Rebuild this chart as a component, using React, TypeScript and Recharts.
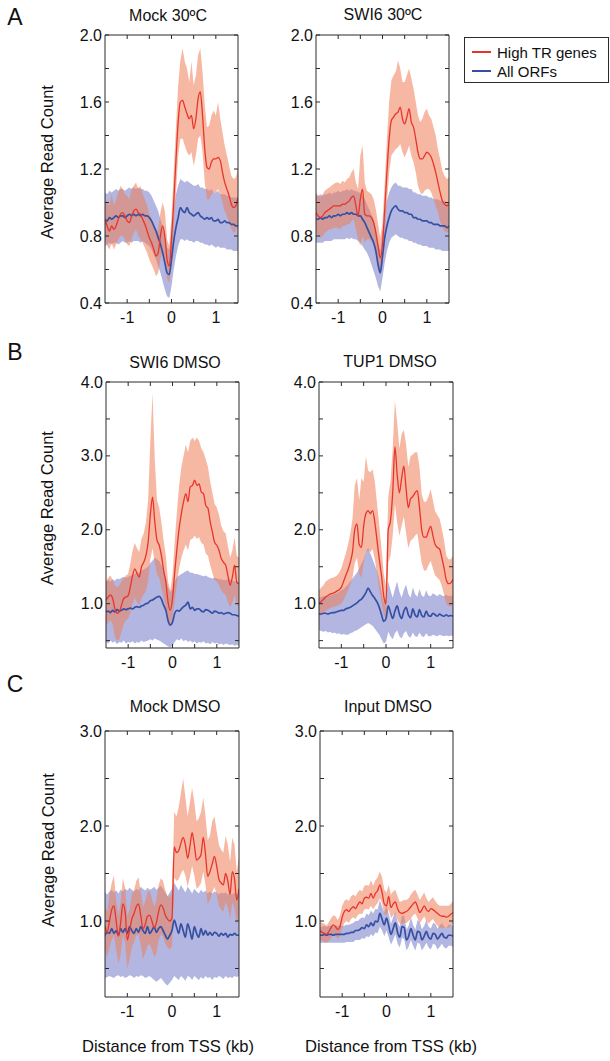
import React from 'react';
import { ComposedChart, Area, Line, XAxis, YAxis } from 'recharts';

const FONT = '"Liberation Sans", Arial, Helvetica, sans-serif';
const AX = '#2a2a2a';

// distance from TSS (kb)
const X = [-1.5,-1.45,-1.4,-1.35,-1.3,-1.25,-1.2,-1.15,-1.1,-1.05,
  -1,-0.95,-0.9,-0.85,-0.8,-0.75,-0.7,-0.65,-0.6,-0.55,
  -0.5,-0.45,-0.4,-0.35,-0.3,-0.25,-0.2,-0.15,-0.1,-0.05,
  0,0.05,0.1,0.15,0.2,0.25,0.3,0.35,0.4,0.45,
  0.5,0.55,0.6,0.65,0.7,0.75,0.8,0.85,0.9,0.95,
  1,1.05,1.1,1.15,1.2,1.25,1.3,1.35,1.4,1.45,
  1.5];

const X_TICKS = [-1, -0.5, 0, 0.5, 1];
const X_LABELS = [-1, 0, 1];

// ---------- A: Mock 30ºC ----------
const A1_RED = [0.90,0.86,0.83,0.86,0.84,0.86,0.90,0.93,0.94,0.92,
  0.89,0.88,0.92,0.95,0.96,0.94,0.93,0.90,0.87,0.83,
  0.79,0.76,0.72,0.68,0.70,0.80,0.86,0.80,0.66,0.62,
  0.78,1.00,1.25,1.48,1.60,1.61,1.57,1.53,1.50,1.52,
  1.44,1.50,1.62,1.66,1.52,1.32,1.21,1.20,1.24,1.26,
  1.26,1.27,1.25,1.18,1.12,1.08,1.04,0.99,0.97,0.98,
  1.03];
const A1_RED_LO = [0.78,0.74,0.72,0.76,0.72,0.75,0.78,0.80,0.80,0.78,
  0.75,0.74,0.78,0.82,0.84,0.80,0.78,0.76,0.73,0.70,
  0.66,0.63,0.60,0.56,0.58,0.66,0.72,0.66,0.55,0.52,
  0.64,0.85,1.05,1.28,1.38,1.38,1.34,1.30,1.28,1.30,
  1.22,1.28,1.38,1.40,1.30,1.12,1.02,1.02,1.05,1.06,
  1.06,1.08,1.05,1.00,0.95,0.92,0.88,0.84,0.82,0.83,
  0.88];
const A1_RED_HI = [1.02,1.00,0.98,1.05,0.98,1.02,1.06,1.10,1.08,1.05,
  1.04,1.02,1.08,1.10,1.12,1.08,1.10,1.05,1.02,0.98,
  0.93,0.90,0.86,0.82,0.84,0.94,1.00,0.95,0.78,0.74,
  0.92,1.18,1.45,1.70,1.85,1.92,1.84,1.80,1.72,1.84,
  1.70,1.76,1.88,1.92,1.78,1.58,1.45,1.46,1.52,1.55,
  1.52,1.60,1.50,1.42,1.34,1.28,1.22,1.16,1.14,1.15,
  1.20];
const A1_BLUE = [0.90,0.89,0.91,0.90,0.91,0.92,0.91,0.92,0.92,0.91,
  0.92,0.93,0.92,0.93,0.92,0.93,0.92,0.93,0.92,0.92,
  0.91,0.89,0.86,0.83,0.79,0.75,0.70,0.64,0.58,0.57,
  0.66,0.77,0.85,0.91,0.97,0.95,0.94,0.97,0.94,0.93,
  0.92,0.93,0.94,0.92,0.91,0.90,0.91,0.90,0.91,0.89,
  0.89,0.90,0.88,0.88,0.89,0.88,0.88,0.87,0.87,0.86,
  0.86];
const A1_BLUE_LO = [0.74,0.75,0.76,0.75,0.76,0.76,0.75,0.76,0.77,0.76,
  0.76,0.77,0.76,0.77,0.77,0.77,0.76,0.77,0.76,0.75,
  0.74,0.72,0.69,0.66,0.62,0.58,0.53,0.48,0.44,0.43,
  0.50,0.60,0.68,0.74,0.78,0.78,0.77,0.78,0.77,0.77,
  0.76,0.77,0.77,0.76,0.76,0.75,0.75,0.74,0.75,0.74,
  0.73,0.74,0.73,0.73,0.73,0.72,0.72,0.72,0.71,0.71,
  0.71];
const A1_BLUE_HI = [1.06,1.05,1.07,1.06,1.07,1.08,1.07,1.08,1.08,1.07,
  1.08,1.09,1.08,1.09,1.08,1.09,1.08,1.08,1.07,1.07,
  1.06,1.04,1.01,0.98,0.95,0.90,0.86,0.80,0.73,0.72,
  0.83,0.95,1.05,1.10,1.14,1.13,1.12,1.13,1.12,1.11,
  1.10,1.10,1.11,1.09,1.09,1.08,1.08,1.07,1.08,1.06,
  1.06,1.07,1.05,1.05,1.05,1.04,1.04,1.03,1.03,1.03,
  1.03];

// ---------- A: SWI6 30ºC ----------
const A2_RED = [0.94,0.92,0.91,0.92,0.94,0.95,0.96,0.97,0.98,0.98,
  0.98,0.98,0.99,0.99,1.00,1.01,1.03,1.04,0.98,0.92,
  1.02,1.08,0.93,0.92,0.92,0.91,0.88,0.82,0.74,0.67,
  0.75,0.96,1.18,1.38,1.49,1.51,1.53,1.54,1.57,1.50,
  1.47,1.51,1.56,1.48,1.45,1.38,1.30,1.26,1.26,1.28,
  1.30,1.29,1.27,1.23,1.18,1.12,1.06,1.01,0.99,0.98,
  0.99];
const A2_RED_LO = [0.82,0.80,0.79,0.80,0.82,0.83,0.84,0.84,0.85,0.85,
  0.85,0.84,0.86,0.86,0.87,0.87,0.89,0.90,0.84,0.78,
  0.74,0.80,0.76,0.78,0.78,0.77,0.75,0.70,0.63,0.57,
  0.64,0.82,1.00,1.18,1.28,1.30,1.32,1.33,1.35,1.30,
  1.27,1.30,1.34,1.28,1.24,1.18,1.10,1.06,1.05,1.07,
  1.08,1.08,1.06,1.02,0.98,0.94,0.89,0.85,0.83,0.82,
  0.83];
const A2_RED_HI = [1.06,1.04,1.03,1.05,1.07,1.08,1.09,1.10,1.11,1.12,
  1.12,1.11,1.13,1.12,1.14,1.15,1.18,1.20,1.12,1.08,
  1.28,1.34,1.12,1.07,1.06,1.05,1.02,0.96,0.87,0.79,
  0.88,1.12,1.38,1.60,1.73,1.76,1.78,1.85,1.80,1.72,
  1.72,1.76,1.80,1.74,1.68,1.60,1.52,1.48,1.50,1.54,
  1.56,1.52,1.50,1.45,1.40,1.32,1.26,1.19,1.16,1.14,
  1.15];
const A2_BLUE = [0.90,0.90,0.91,0.90,0.91,0.91,0.92,0.91,0.92,0.92,
  0.93,0.92,0.93,0.93,0.94,0.93,0.94,0.93,0.93,0.92,
  0.92,0.90,0.88,0.85,0.82,0.79,0.76,0.71,0.63,0.58,
  0.68,0.79,0.86,0.91,0.95,0.97,0.98,0.96,0.95,0.95,
  0.94,0.94,0.93,0.93,0.91,0.91,0.90,0.90,0.89,0.89,
  0.89,0.88,0.88,0.87,0.87,0.87,0.86,0.86,0.86,0.85,
  0.86];
const A2_BLUE_LO = [0.76,0.76,0.76,0.76,0.77,0.77,0.77,0.77,0.78,0.78,
  0.78,0.78,0.78,0.78,0.79,0.78,0.79,0.78,0.78,0.77,
  0.76,0.74,0.72,0.70,0.67,0.63,0.59,0.55,0.50,0.47,
  0.55,0.64,0.71,0.76,0.79,0.80,0.81,0.80,0.79,0.79,
  0.78,0.78,0.77,0.77,0.76,0.76,0.75,0.75,0.74,0.74,
  0.74,0.73,0.73,0.73,0.72,0.72,0.72,0.71,0.71,0.71,
  0.71];
const A2_BLUE_HI = [1.04,1.04,1.05,1.04,1.05,1.05,1.06,1.05,1.06,1.06,
  1.07,1.06,1.07,1.07,1.08,1.07,1.08,1.07,1.07,1.06,
  1.06,1.04,1.02,0.99,0.96,0.93,0.90,0.85,0.76,0.71,
  0.82,0.94,1.01,1.06,1.09,1.11,1.12,1.10,1.10,1.09,
  1.09,1.09,1.08,1.08,1.06,1.06,1.05,1.05,1.04,1.04,
  1.04,1.03,1.03,1.02,1.02,1.02,1.01,1.01,1.01,1.00,
  1.01];

// ---------- B: SWI6 DMSO ----------
const B1_RED = [1.05,1.09,1.12,1.07,0.93,0.87,0.89,0.98,1.07,1.09,
  1.11,1.23,1.38,1.47,1.41,1.36,1.50,1.56,1.65,1.83,
  2.20,2.44,2.11,1.86,1.79,1.65,1.45,1.29,1.02,0.91,
  1.07,1.43,1.74,2.02,2.22,2.38,2.49,2.38,2.58,2.60,
  2.67,2.60,2.62,2.51,2.49,2.33,2.29,2.11,1.97,1.83,
  1.79,1.72,1.61,1.56,1.52,1.38,1.25,1.36,1.52,1.29,
  1.27];
const B1_RED_LO = [0.70,0.75,0.78,0.72,0.55,0.50,0.52,0.62,0.72,0.78,
  0.80,0.88,1.00,1.08,1.02,0.98,1.08,1.12,1.18,1.30,
  1.60,1.75,1.55,1.40,1.35,1.22,1.08,0.95,0.78,0.72,
  0.82,1.05,1.28,1.48,1.62,1.72,1.80,1.72,1.86,1.88,
  1.92,1.88,1.90,1.82,1.80,1.68,1.65,1.52,1.42,1.32,
  1.30,1.25,1.18,1.14,1.12,1.02,0.95,1.02,1.12,0.98,
  0.96];
const B1_RED_HI = [1.30,1.35,1.38,1.32,1.25,1.22,1.25,1.30,1.35,1.38,
  1.40,1.55,1.72,1.82,1.75,1.70,1.88,1.95,2.10,2.40,
  3.20,3.85,2.95,2.40,2.30,2.10,1.85,1.65,1.30,1.18,
  1.38,1.85,2.25,2.60,2.85,3.00,3.15,3.05,3.20,3.25,
  3.20,3.25,3.20,3.10,3.05,2.95,2.85,2.65,2.50,2.35,
  2.30,2.20,2.05,1.98,1.95,1.78,1.62,1.72,1.90,1.65,
  1.62];
const B1_BLUE = [0.89,0.90,0.88,0.91,0.89,0.92,0.90,0.91,0.93,0.92,
  0.93,0.94,0.93,0.95,0.96,0.95,0.97,0.98,1.00,1.01,
  1.04,1.05,1.07,1.09,1.10,1.06,0.98,0.91,0.77,0.71,
  0.75,0.87,0.91,0.90,0.93,0.96,0.98,1.02,0.93,0.95,
  0.91,0.93,0.93,0.90,0.89,0.92,0.91,0.89,0.87,0.90,
  0.89,0.87,0.88,0.86,0.87,0.88,0.87,0.85,0.85,0.84,
  0.83];
const B1_BLUE_LO = [0.48,0.46,0.50,0.47,0.49,0.45,0.48,0.47,0.50,0.46,
  0.48,0.47,0.49,0.46,0.48,0.47,0.50,0.48,0.49,0.50,
  0.52,0.50,0.53,0.51,0.50,0.48,0.46,0.44,0.42,0.41,
  0.43,0.48,0.52,0.50,0.53,0.49,0.51,0.48,0.50,0.47,
  0.49,0.46,0.48,0.47,0.49,0.46,0.47,0.45,0.48,0.46,
  0.47,0.45,0.46,0.44,0.46,0.45,0.44,0.45,0.43,0.44,
  0.43];
const B1_BLUE_HI = [1.30,1.32,1.30,1.33,1.31,1.34,1.33,1.35,1.36,1.35,
  1.36,1.38,1.38,1.40,1.42,1.42,1.45,1.46,1.48,1.50,
  1.55,1.58,1.62,1.60,1.58,1.52,1.45,1.36,1.22,1.15,
  1.20,1.30,1.36,1.38,1.40,1.42,1.44,1.45,1.42,1.42,
  1.40,1.40,1.39,1.38,1.37,1.38,1.36,1.35,1.34,1.35,
  1.34,1.33,1.33,1.32,1.32,1.33,1.32,1.31,1.30,1.30,
  1.29];

// ---------- B: TUP1 DMSO ----------
const B2_RED = [1.00,1.03,1.06,1.09,1.11,1.13,1.14,1.15,1.17,1.19,
  1.22,1.30,1.38,1.46,1.56,1.70,2.00,2.08,1.80,1.76,
  2.05,2.22,2.26,2.22,2.26,2.10,1.85,1.60,1.38,1.10,
  1.00,2.00,2.12,2.50,3.12,2.75,2.50,2.70,2.86,2.55,
  2.30,2.42,2.45,2.50,2.53,2.30,2.00,1.90,1.90,1.98,
  2.05,1.92,1.80,1.76,1.74,1.62,1.48,1.32,1.27,1.28,
  1.33];
const B2_RED_LO = [0.82,0.85,0.88,0.90,0.92,0.94,0.95,0.96,0.97,0.99,
  1.00,1.05,1.12,1.18,1.25,1.35,1.55,1.62,1.40,1.35,
  1.55,1.70,1.72,1.70,1.74,1.60,1.40,1.20,1.02,0.85,
  0.80,1.55,1.65,1.92,2.35,2.10,1.92,2.05,2.18,1.95,
  1.75,1.85,1.88,1.92,1.95,1.75,1.55,1.45,1.45,1.52,
  1.58,1.48,1.38,1.35,1.32,1.24,1.12,1.00,0.96,0.97,
  1.00];
const B2_RED_HI = [1.18,1.22,1.25,1.30,1.32,1.34,1.35,1.36,1.38,1.42,
  1.48,1.58,1.68,1.80,1.95,2.15,2.60,2.70,2.40,2.70,
  2.65,3.00,2.80,2.78,2.82,2.65,2.35,2.05,1.75,1.40,
  1.25,2.45,2.65,3.10,3.75,3.45,3.10,3.30,3.35,3.15,
  2.85,3.00,3.02,3.05,3.05,2.85,2.48,2.38,2.38,2.45,
  2.55,2.40,2.25,2.20,2.15,2.02,1.85,1.65,1.60,1.60,
  1.65];
const B2_BLUE = [0.86,0.86,0.87,0.87,0.86,0.87,0.88,0.88,0.89,0.90,
  0.91,0.91,0.93,0.94,0.95,0.97,0.99,1.01,1.04,1.06,
  1.10,1.15,1.21,1.16,1.11,1.07,1.02,0.95,0.85,0.76,
  0.80,0.97,0.88,0.80,0.90,0.97,0.86,0.80,0.90,0.95,
  0.85,0.81,0.93,0.85,0.82,0.92,0.84,0.82,0.90,0.84,
  0.83,0.87,0.85,0.83,0.86,0.84,0.83,0.85,0.83,0.84,
  0.83];
const B2_BLUE_LO = [0.64,0.63,0.62,0.63,0.61,0.62,0.60,0.61,0.59,0.60,
  0.58,0.59,0.58,0.58,0.60,0.61,0.63,0.64,0.66,0.68,
  0.70,0.72,0.74,0.72,0.70,0.66,0.62,0.58,0.52,0.46,
  0.48,0.62,0.56,0.52,0.60,0.64,0.56,0.53,0.60,0.63,
  0.56,0.54,0.61,0.56,0.55,0.61,0.56,0.55,0.60,0.56,
  0.56,0.58,0.57,0.56,0.58,0.57,0.56,0.57,0.56,0.57,
  0.56];
const B2_BLUE_HI = [1.08,1.09,1.10,1.10,1.10,1.11,1.12,1.13,1.14,1.16,
  1.18,1.20,1.23,1.26,1.30,1.34,1.38,1.42,1.48,1.54,
  1.60,1.70,1.76,1.68,1.60,1.52,1.44,1.32,1.16,1.02,
  1.10,1.30,1.18,1.08,1.20,1.30,1.16,1.08,1.19,1.26,
  1.13,1.08,1.22,1.13,1.09,1.20,1.11,1.09,1.18,1.11,
  1.10,1.14,1.12,1.10,1.13,1.11,1.10,1.12,1.10,1.11,
  1.10];

// ---------- C: Mock DMSO ----------
const C1_RED = [0.95,0.88,1.00,1.12,1.16,1.00,0.84,0.98,1.18,1.10,
  0.80,0.90,1.02,1.08,1.15,1.18,1.06,0.92,0.96,1.05,
  1.06,1.00,0.93,0.98,1.10,1.17,1.14,1.06,1.02,1.00,
  1.03,1.78,1.72,1.74,1.82,1.88,1.80,1.66,1.78,1.93,
  1.80,1.64,1.66,1.70,1.88,1.70,1.47,1.52,1.60,1.68,
  1.58,1.44,1.40,1.38,1.50,1.42,1.28,1.52,1.44,1.22,
  1.34];
const C1_RED_LO = [0.70,0.62,0.72,0.80,0.85,0.70,0.55,0.65,0.85,0.78,
  0.50,0.60,0.72,0.78,0.85,0.86,0.75,0.60,0.66,0.74,
  0.76,0.70,0.62,0.66,0.80,0.86,0.84,0.76,0.72,0.70,
  0.74,1.46,1.42,1.44,1.50,1.54,1.48,1.36,1.46,1.58,
  1.48,1.34,1.36,1.40,1.52,1.38,1.18,1.22,1.30,1.36,
  1.28,1.16,1.12,1.10,1.20,1.14,1.02,1.20,1.14,0.96,
  1.06];
const C1_RED_HI = [1.15,1.10,1.28,1.40,1.48,1.22,1.05,1.20,1.45,1.35,
  1.05,1.12,1.28,1.32,1.42,1.46,1.30,1.15,1.20,1.30,
  1.32,1.24,1.15,1.22,1.38,1.45,1.42,1.32,1.26,1.25,
  1.30,2.15,2.10,2.20,2.35,2.50,2.30,2.10,2.25,2.40,
  2.25,2.05,2.08,2.15,2.30,2.10,1.85,1.90,2.05,2.10,
  1.95,1.80,1.75,1.72,1.90,1.80,1.62,1.88,1.80,1.52,
  1.68];
const C1_BLUE = [0.85,0.88,0.87,0.92,0.87,0.90,0.85,0.92,0.88,0.92,
  0.87,0.94,0.90,0.87,0.92,0.88,0.94,0.90,0.87,0.94,
  0.87,0.90,0.94,0.88,0.92,0.94,0.90,0.85,0.81,0.85,
  0.90,1.01,0.94,0.87,0.97,0.90,0.83,0.97,0.90,0.81,
  0.94,0.87,0.83,0.92,0.85,0.90,0.85,0.88,0.85,0.88,
  0.87,0.84,0.87,0.85,0.87,0.83,0.86,0.85,0.87,0.85,
  0.85];
const C1_BLUE_LO = [0.40,0.41,0.42,0.41,0.40,0.42,0.43,0.41,0.42,0.40,
  0.41,0.43,0.42,0.40,0.42,0.41,0.43,0.42,0.40,0.41,
  0.42,0.40,0.38,0.36,0.38,0.40,0.37,0.34,0.32,0.35,
  0.38,0.42,0.40,0.38,0.42,0.40,0.37,0.42,0.41,0.38,
  0.42,0.40,0.38,0.41,0.39,0.42,0.40,0.41,0.38,0.41,
  0.40,0.42,0.41,0.39,0.42,0.40,0.41,0.40,0.42,0.41,
  0.42];
const C1_BLUE_HI = [1.30,1.28,1.31,1.33,1.30,1.32,1.29,1.33,1.31,1.34,
  1.32,1.35,1.33,1.31,1.34,1.32,1.36,1.34,1.32,1.35,
  1.33,1.34,1.36,1.33,1.35,1.37,1.34,1.30,1.26,1.30,
  1.34,1.40,1.36,1.32,1.38,1.34,1.30,1.36,1.33,1.29,
  1.34,1.31,1.29,1.33,1.30,1.32,1.29,1.31,1.29,1.31,
  1.30,1.28,1.30,1.29,1.30,1.28,1.29,1.28,1.30,1.28,
  1.29];

// ---------- C: Input DMSO ----------
const C2_RED = [0.90,0.88,0.87,0.86,0.89,0.93,0.96,0.94,0.91,0.94,
  1.04,1.10,1.12,1.10,1.13,1.15,1.13,1.17,1.20,1.18,
  1.24,1.25,1.24,1.29,1.24,1.29,1.32,1.38,1.30,1.18,
  1.16,1.26,1.14,1.18,1.20,1.13,1.09,1.08,1.09,1.10,
  1.12,1.15,1.18,1.20,1.15,1.09,1.12,1.16,1.12,1.10,
  1.13,1.12,1.10,1.08,1.06,1.05,1.05,1.04,1.05,1.07,
  1.09];
const C2_RED_LO = [0.80,0.79,0.78,0.77,0.79,0.82,0.85,0.84,0.81,0.84,
  0.93,0.98,1.00,0.98,1.02,1.04,1.02,1.06,1.08,1.07,
  1.12,1.13,1.12,1.16,1.12,1.16,1.19,1.24,1.19,1.08,
  1.06,1.12,1.03,1.06,1.08,1.01,0.97,0.97,0.98,0.98,
  1.00,1.03,1.06,1.08,1.03,0.98,1.01,1.05,1.00,0.97,
  1.00,1.02,0.98,0.95,0.93,0.93,0.93,0.93,0.93,0.95,
  0.98];
const C2_RED_HI = [1.00,0.98,0.97,0.95,0.99,1.03,1.06,1.05,1.01,1.06,
  1.16,1.21,1.23,1.21,1.26,1.28,1.26,1.30,1.33,1.31,
  1.37,1.38,1.37,1.43,1.37,1.43,1.46,1.52,1.46,1.33,
  1.30,1.38,1.28,1.31,1.33,1.26,1.20,1.21,1.22,1.22,
  1.24,1.28,1.31,1.33,1.28,1.22,1.26,1.30,1.24,1.20,
  1.23,1.25,1.21,1.18,1.16,1.16,1.16,1.16,1.16,1.18,
  1.21];
const C2_BLUE = [0.85,0.85,0.86,0.85,0.86,0.86,0.85,0.86,0.86,0.86,
  0.86,0.86,0.87,0.87,0.88,0.88,0.90,0.90,0.91,0.93,
  0.92,0.96,0.94,0.98,0.95,1.00,0.99,1.08,1.02,0.96,
  1.03,0.95,0.86,0.92,0.98,0.88,0.83,0.94,0.93,0.80,
  0.84,0.92,0.85,0.80,0.89,0.88,0.80,0.84,0.89,0.83,
  0.81,0.87,0.86,0.81,0.84,0.87,0.83,0.82,0.85,0.85,
  0.84];
const C2_BLUE_LO = [0.77,0.77,0.77,0.77,0.77,0.77,0.77,0.77,0.77,0.77,
  0.77,0.77,0.78,0.78,0.78,0.78,0.80,0.80,0.80,0.82,
  0.81,0.84,0.83,0.86,0.84,0.88,0.87,0.94,0.90,0.84,
  0.90,0.83,0.75,0.80,0.86,0.76,0.72,0.82,0.81,0.69,
  0.73,0.80,0.74,0.69,0.77,0.76,0.69,0.73,0.77,0.72,
  0.70,0.76,0.75,0.70,0.73,0.76,0.72,0.71,0.74,0.74,
  0.73];
const C2_BLUE_HI = [0.94,0.94,0.95,0.94,0.95,0.95,0.94,0.95,0.95,0.95,
  0.95,0.95,0.96,0.96,0.97,0.98,1.00,1.00,1.02,1.04,
  1.03,1.08,1.06,1.11,1.08,1.13,1.12,1.22,1.15,1.09,
  1.16,1.07,0.97,1.04,1.10,0.99,0.94,1.06,1.05,0.91,
  0.95,1.04,0.96,0.91,1.01,0.99,0.91,0.95,1.01,0.94,
  0.92,0.98,0.97,0.92,0.95,0.98,0.94,0.93,0.96,0.96,
  0.95];

// y-axis ticks
const A_Y_TICKS = [0.4, 0.6, 0.8, 1.0, 1.2, 1.4, 1.6, 1.8, 2.0];
const A_Y_LABELS = [0.4, 0.8, 1.2, 1.6, 2.0];
const B_Y_TICKS = [0.5, 1.0, 1.5, 2.0, 2.5, 3.0, 3.5, 4.0];
const B_Y_LABELS = [1.0, 2.0, 3.0, 4.0];
const C_Y_TICKS = [0.5, 1.0, 1.5, 2.0, 2.5, 3.0];
const C_Y_LABELS = [1.0, 2.0, 3.0];

function build(red: number[], redLo: number[], redHi: number[], blue: number[], blueLo: number[], blueHi: number[]) {
  return X.map((x, i) => ({
    x,
    r: red[i],
    rb: [redLo[i], redHi[i]],
    b: blue[i],
    bb: [blueLo[i], blueHi[i]],
  }));
}

const has = (arr: number[], v: number) => arr.some((a) => Math.abs(a - v) < 1e-6);

const ML = 40;   // left axis width
const MB = 30;   // bottom axis height
const MT = 12;   // top margin
const MR = 6;    // right margin
const TA = 1;    // top axis height
const RA = 1;    // right axis width

type PanelProps = {
  left: number; top: number; w: number; h: number;
  domain: [number, number]; yTicks: number[]; yLabels: number[];
  data: any[];
};

function Panel({ left, top, w, h, domain, yTicks, yLabels, data }: PanelProps) {
  const bottomTick = (p: any) => {
    const { x, y, payload } = p;
    const v = payload.value;
    return (
      <g>
        <line x1={x} y1={y} x2={x} y2={y - 4} stroke={AX} strokeWidth={1} />
        {has(X_LABELS, v) && (
          <text x={x} y={y + 14} textAnchor="middle" dominantBaseline="central" fontSize={16} fontFamily={FONT} fill="#111">
            {String(v)}
          </text>
        )}
      </g>
    );
  };
  const topTick = (p: any) => {
    const { x, y } = p;
    return <line x1={x} y1={y} x2={x} y2={y + 4} stroke={AX} strokeWidth={1} />;
  };
  const leftTick = (p: any) => {
    const { x, y, payload } = p;
    const v = payload.value;
    return (
      <g>
        <line x1={x} y1={y} x2={x + 4} y2={y} stroke={AX} strokeWidth={1} />
        {has(yLabels, v) && (
          <text x={x - 3} y={y} textAnchor="end" dominantBaseline="central" fontSize={16} fontFamily={FONT} fill="#111">
            {v.toFixed(1)}
          </text>
        )}
      </g>
    );
  };
  const rightTick = (p: any) => {
    const { x, y } = p;
    return <line x1={x} y1={y} x2={x - 4} y2={y} stroke={AX} strokeWidth={1} />;
  };
  return (
    <div style={{ position: 'absolute', left: left - ML, top: top - MT - TA }}>
      <ComposedChart
        width={w + ML + MR + RA}
        height={h + MT + TA + MB}
        data={data}
        margin={{ top: MT, right: MR, bottom: 0, left: 0 }}
      >
        <XAxis xAxisId="b" dataKey="x" type="number" domain={[-1.5, 1.5]} ticks={X_TICKS} interval={0}
          height={MB} tickSize={0} tickMargin={0} tickLine={false} axisLine={{ stroke: AX, strokeWidth: 1 }}
          tick={bottomTick} allowDataOverflow />
        <XAxis xAxisId="t" orientation="top" dataKey="x" type="number" domain={[-1.5, 1.5]} ticks={X_TICKS} interval={0}
          height={TA} tickSize={0} tickMargin={0} tickLine={false} axisLine={{ stroke: AX, strokeWidth: 1 }}
          tick={topTick} allowDataOverflow />
        <YAxis yAxisId="l" type="number" domain={domain} ticks={yTicks} interval={0}
          width={ML} tickSize={0} tickMargin={0} tickLine={false} axisLine={{ stroke: AX, strokeWidth: 1 }}
          tick={leftTick} allowDataOverflow />
        <YAxis yAxisId="r" orientation="right" type="number" domain={domain} ticks={yTicks} interval={0}
          width={RA} tickSize={0} tickMargin={0} tickLine={false} axisLine={{ stroke: AX, strokeWidth: 1 }}
          tick={rightTick} allowDataOverflow />
        <Area xAxisId="b" yAxisId="l" dataKey="bb" type="linear" stroke="none" fill="#7a82ca" fillOpacity={0.58}
          isAnimationActive={false} dot={false} activeDot={false} />
        <Area xAxisId="b" yAxisId="l" dataKey="rb" type="linear" stroke="none" fill="#ef7d58" fillOpacity={0.55}
          isAnimationActive={false} dot={false} activeDot={false} />
        <Line xAxisId="t" yAxisId="r" dataKey="b" type="monotone" stroke="#3550a3" strokeWidth={1.7}
          dot={false} activeDot={false} isAnimationActive={false} />
        <Line xAxisId="t" yAxisId="r" dataKey="r" type="monotone" stroke="#e8352b" strokeWidth={1.3}
          dot={false} activeDot={false} isAnimationActive={false} />
      </ComposedChart>
    </div>
  );
}

const DATA_A1 = build(A1_RED, A1_RED_LO, A1_RED_HI, A1_BLUE, A1_BLUE_LO, A1_BLUE_HI);
const DATA_A2 = build(A2_RED, A2_RED_LO, A2_RED_HI, A2_BLUE, A2_BLUE_LO, A2_BLUE_HI);
const DATA_B1 = build(B1_RED, B1_RED_LO, B1_RED_HI, B1_BLUE, B1_BLUE_LO, B1_BLUE_HI);
const DATA_B2 = build(B2_RED, B2_RED_LO, B2_RED_HI, B2_BLUE, B2_BLUE_LO, B2_BLUE_HI);
const DATA_C1 = build(C1_RED, C1_RED_LO, C1_RED_HI, C1_BLUE, C1_BLUE_LO, C1_BLUE_HI);
const DATA_C2 = build(C2_RED, C2_RED_LO, C2_RED_HI, C2_BLUE, C2_BLUE_LO, C2_BLUE_HI);

export default function App() {
  const t = { fontFamily: FONT, fill: '#111' } as const;
  return (
    <div style={{ position: 'absolute', left: 0, top: 0, width: 610, height: 1061, background: '#fff', overflow: 'hidden' }}>
      <Panel left={105} top={35} w={133} h={268} domain={[0.4, 2.0]} yTicks={A_Y_TICKS} yLabels={A_Y_LABELS} data={DATA_A1} />
      <Panel left={316} top={35} w={133} h={268} domain={[0.4, 2.0]} yTicks={A_Y_TICKS} yLabels={A_Y_LABELS} data={DATA_A2} />
      <Panel left={106} top={382} w={133} h={266} domain={[0.4, 4.0]} yTicks={B_Y_TICKS} yLabels={B_Y_LABELS} data={DATA_B1} />
      <Panel left={319} top={382} w={134} h={266} domain={[0.4, 4.0]} yTicks={B_Y_TICKS} yLabels={B_Y_LABELS} data={DATA_B2} />
      <Panel left={105} top={731} w={134} h={266} domain={[0.2, 3.0]} yTicks={C_Y_TICKS} yLabels={C_Y_LABELS} data={DATA_C1} />
      <Panel left={320} top={731} w={133} h={266} domain={[0.2, 3.0]} yTicks={C_Y_TICKS} yLabels={C_Y_LABELS} data={DATA_C2} />
      <svg width={610} height={1061} style={{ position: 'absolute', left: 0, top: 0, pointerEvents: 'none' }}>
        <text x={15} y={17} textAnchor="middle" dominantBaseline="central" fontSize={23} {...t}>A</text>
        <text x={15} y={352} textAnchor="middle" dominantBaseline="central" fontSize={23} {...t}>B</text>
        <text x={15} y={684} textAnchor="middle" dominantBaseline="central" fontSize={23} {...t}>C</text>

        <text x={168} y={15} textAnchor="middle" dominantBaseline="central" fontSize={16} {...t}>Mock 30ºC</text>
        <text x={383} y={14} textAnchor="middle" dominantBaseline="central" fontSize={16} {...t}>SWI6 30ºC</text>
        <text x={175} y={362} textAnchor="middle" dominantBaseline="central" fontSize={16} {...t}>SWI6 DMSO</text>
        <text x={390} y={361} textAnchor="middle" dominantBaseline="central" fontSize={16} {...t}>TUP1 DMSO</text>
        <text x={175} y={706} textAnchor="middle" dominantBaseline="central" fontSize={16} {...t}>Mock DMSO</text>
        <text x={388} y={706} textAnchor="middle" dominantBaseline="central" fontSize={16} {...t}>Input DMSO</text>

        <text transform="translate(47,162) rotate(-90)" textAnchor="middle" dominantBaseline="central" fontSize={16.5} {...t}>Average Read Count</text>
        <text transform="translate(47,508) rotate(-90)" textAnchor="middle" dominantBaseline="central" fontSize={16.5} {...t}>Average Read Count</text>
        <text transform="translate(48,850) rotate(-90)" textAnchor="middle" dominantBaseline="central" fontSize={16.5} {...t}>Average Read Count</text>

        <text x={168} y={1046} textAnchor="middle" dominantBaseline="central" fontSize={16.6} {...t}>Distance from TSS (kb)</text>
        <text x={391} y={1046} textAnchor="middle" dominantBaseline="central" fontSize={16.6} {...t}>Distance from TSS (kb)</text>

        <rect x={464.5} y={37.5} width={144} height={45} fill="#fff" stroke={AX} strokeWidth={1} />
        <line x1={472} y1={52} x2={491} y2={52} stroke="#e8352b" strokeWidth={2} />
        <line x1={472} y1={71} x2={491} y2={71} stroke="#3550a3" strokeWidth={2} />
        <text x={497} y={52} dominantBaseline="central" fontSize={15} {...t}>High TR genes</text>
        <text x={497} y={71} dominantBaseline="central" fontSize={15} {...t}>All ORFs</text>
      </svg>
    </div>
  );
}
